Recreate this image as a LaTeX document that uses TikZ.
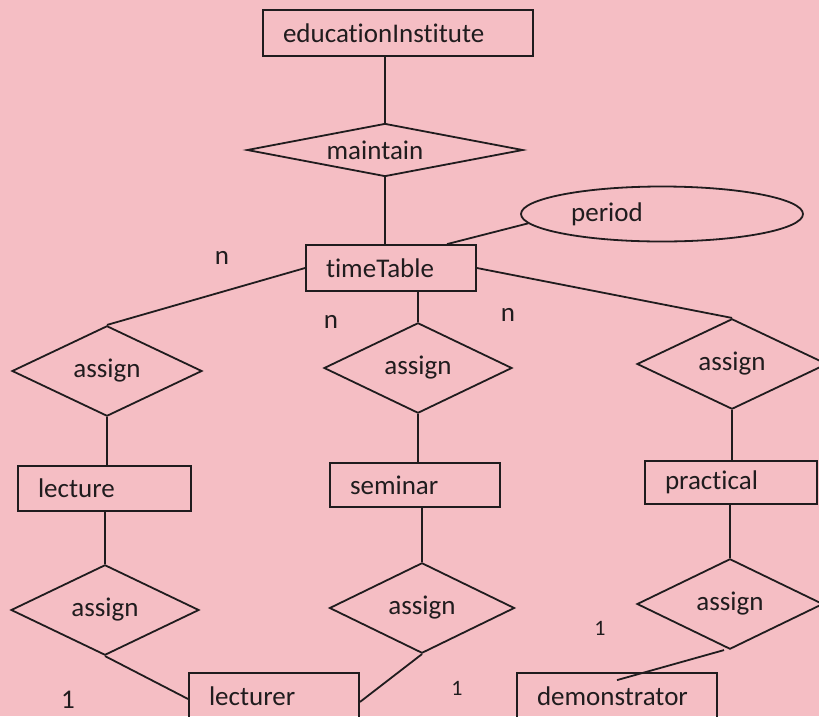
\documentclass[tikz,border=0pt]{standalone}
\usepackage{fontspec}
\setmainfont{Carlito}[Ligatures={NoCommon}]
\usetikzlibrary{shapes.geometric}
\definecolor{bg}{RGB}{245,190,196}
\definecolor{ink}{RGB}{32,28,30}
\begin{document}
\begin{tikzpicture}[x=1pt,y=-1pt,
  every node/.style={font=\fontsize{27}{32}\selectfont, text=ink},
  ent/.style={draw=ink, line width=1.8pt, rectangle, inner xsep=20pt, inner ysep=0pt, align=left},
  rel/.style={draw=ink, line width=1.8pt, diamond, inner sep=0pt},
  attr/.style={draw=ink, line width=1.8pt, ellipse, inner sep=0pt},
  conn/.style={draw=ink, line width=1.8pt},
  card/.style={inner sep=0pt}]
\useasboundingbox (0,0) rectangle (819,716);
\fill[bg] (0,0) rectangle (819,716);
\clip (0,0) rectangle (819,716);

% entities
\node[ent, text width=230pt, minimum height=46pt] (edu) at (398,33) {educationInstitute};
\node[ent, text width=130pt, minimum height=46pt] (tt) at (391,268) {timeTable};
\node[ent, text width=133pt, minimum height=45pt] (lecture) at (104.5,488.5) {lecture};
\node[ent, text width=130pt, minimum height=44pt] (seminar) at (415,485) {seminar};
\node[ent, text width=132pt, minimum height=43pt] (practical) at (731,482.5) {practical};
\node[ent, text width=130pt, minimum height=46pt] (lecturer) at (274,696) {lecturer};
\node[ent, text width=160pt, minimum height=46pt] (demo) at (617,696) {demonstrator};

% attribute
\node[attr, minimum width=282pt, minimum height=55pt,
      label={[xshift=-55pt]center:period}] (period) at (662,214) {};

% relationships
\node[rel, minimum width=276pt, minimum height=53pt,
      label={[xshift=-10pt]center:maintain}] (maintain) at (385,150) {};
\node[rel, minimum width=190pt, minimum height=68pt] (a1) at (107,371) {assign};
\node[rel, minimum width=188pt, minimum height=66pt] (a2) at (418,368) {assign};
\node[rel, minimum width=190pt, minimum height=68pt] (a3) at (732,364) {assign};
\node[rel, minimum width=188pt, minimum height=68pt] (a4) at (105,610) {assign};
\node[rel, minimum width=185pt, minimum height=70pt] (a5) at (422,608) {assign};
\node[rel, minimum width=186pt, minimum height=67pt] (a6) at (730,604) {assign};

% connectors
\draw[conn] (maintain.north) -- (maintain.north |- edu.south);
\draw[conn] (maintain.south) -- (maintain.south |- tt.north);
\draw[conn] ([xshift=56pt]tt.north) -- (period.184);
\draw[conn] (tt.west) -- (a1.north);
\draw[conn] (a2.north) -- (a2.north |- tt.south);
\draw[conn] (tt.east) -- (a3.north);
\draw[conn] (a1.south) -- (a1.south |- lecture.north);
\draw[conn] (a4.north) -- (a4.north |- lecture.south);
\draw[conn] (a4.south) -- ([yshift=-3pt]lecturer.west);
\draw[conn] (a2.south) -- (a2.south |- seminar.north);
\draw[conn] (a5.north) -- (a5.north |- seminar.south);
\draw[conn] (a5.south) -- ([yshift=-6pt]lecturer.east);
\draw[conn] (a3.south) -- (a3.south |- practical.north);
\draw[conn] (a6.north) -- (a6.north |- practical.south);
\draw[conn] ([xshift=-6pt]a6.south) -- ([yshift=-8pt]demo.north);

% cardinalities
\node[card] (n1) at (222,258) {n};
\node[card] (n2) at (331,322) {n};
\node[card] (n3) at (508,315) {n};
\node[card, font=\fontsize{22}{26}\selectfont] (c1) at (600,628) {1};
\node[card] (c2) at (68,700) {1};
\node[card, font=\fontsize{22}{26}\selectfont] (c3) at (457,688) {1};
\end{tikzpicture}
\end{document}
